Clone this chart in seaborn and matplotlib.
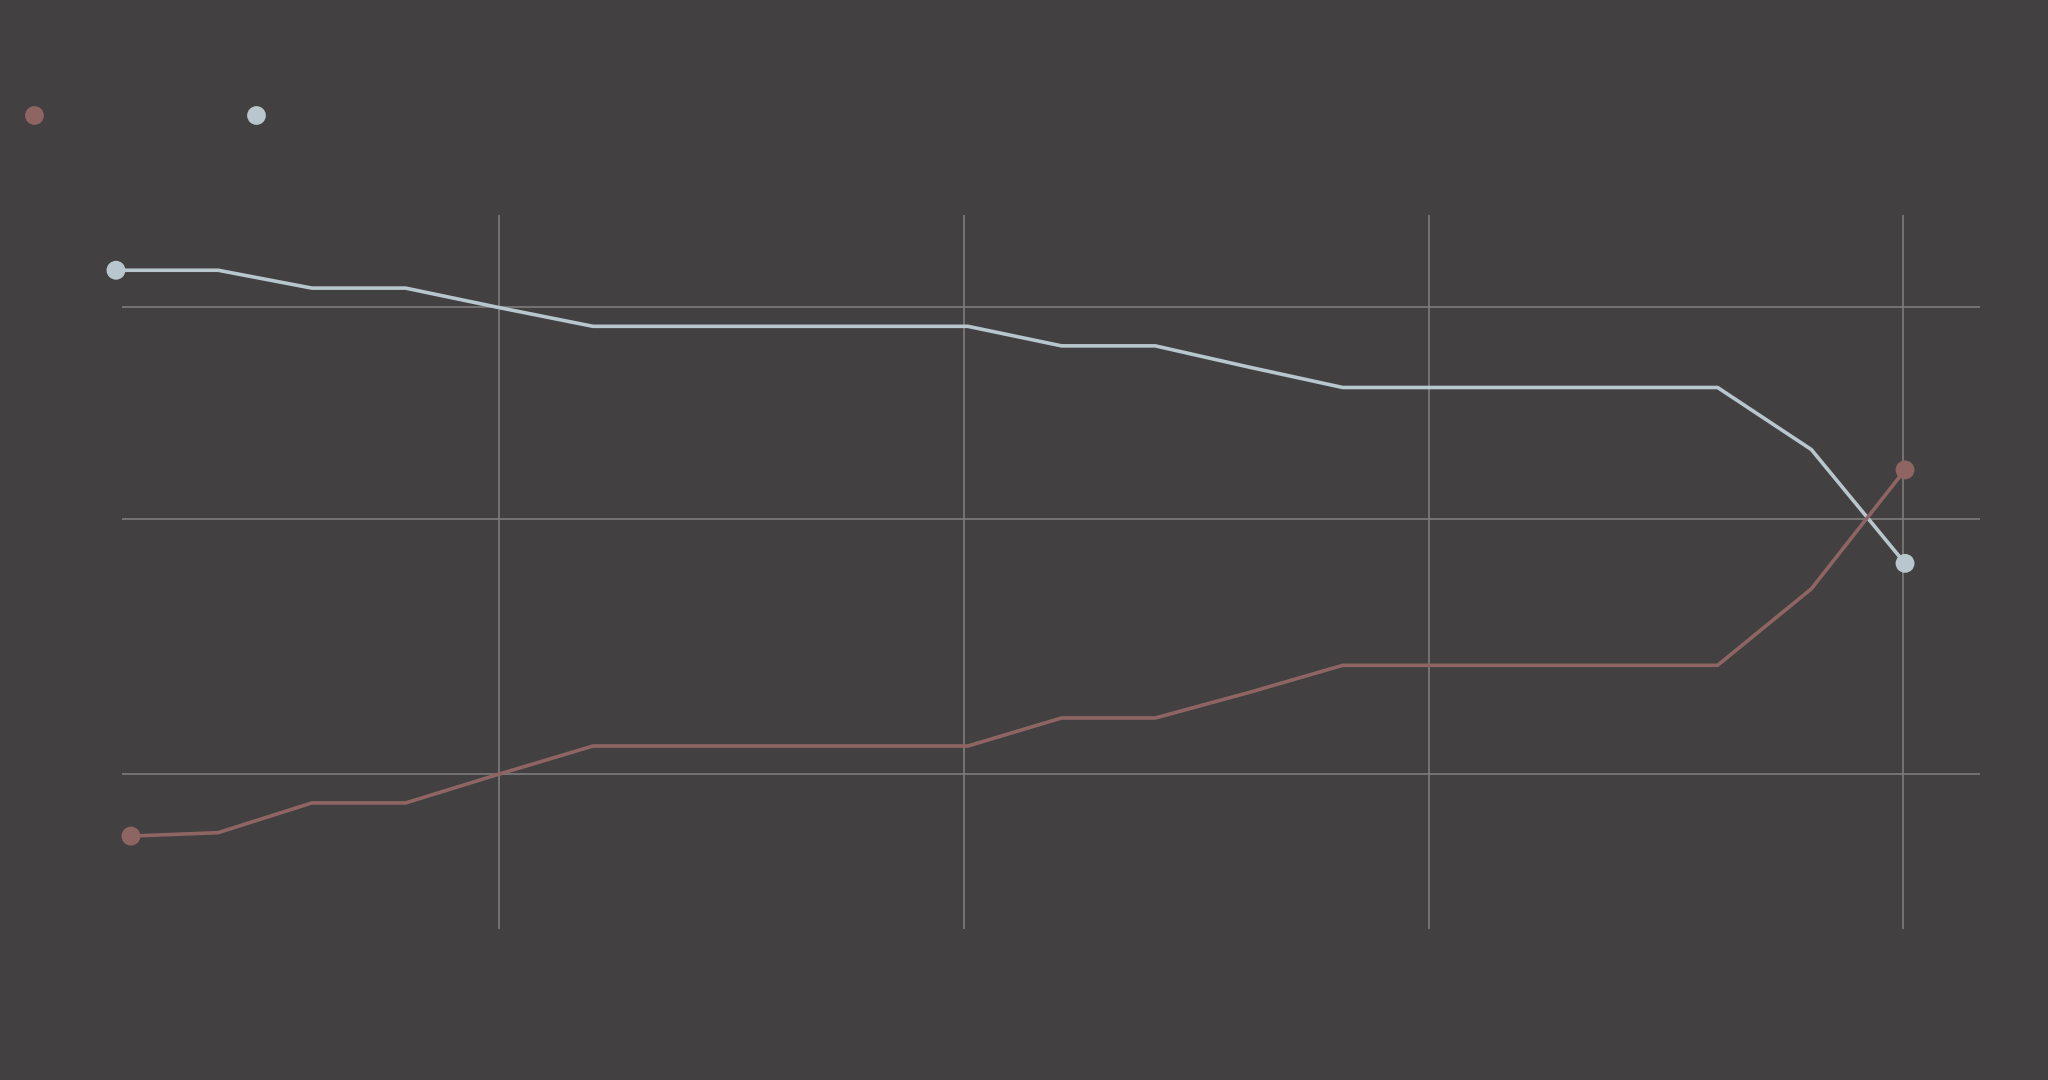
import pandas as pd
import matplotlib
matplotlib.use("Agg")
import matplotlib.pyplot as plt
from matplotlib.lines import Line2D
import seaborn as sns

# --- data (no labels in the picture) ---
years = [1997, 1998, 1999, 2000, 2001, 2002, 2003, 2004, 2005, 2006,
         2007, 2008, 2009, 2010, 2011, 2012, 2013, 2014, 2015]

red_start = (1996.07, 12.7)
red_vals = [13.1, 16.6, 16.6, 20.0, 23.3, 23.3, 23.3, 23.3, 23.3, 26.6,
            26.6, 29.6, 32.8, 32.8, 32.8, 32.8, 32.8, 41.8, 55.8]

blue_start = (1995.91, 79.3)
blue_vals = [79.3, 77.2, 77.2, 74.9, 72.7, 72.7, 72.7, 72.7, 72.7, 70.4,
             70.4, 67.9, 65.5, 65.5, 65.5, 65.5, 65.5, 58.2, 44.8]

x_ticks = [2000, 2004.96, 2009.92, 2014.98]
y_ticks = [20, 50, 75]

BG = "#434041"
GRID = "#7e7c7d"
RED = "#8e6562"
BLUE = "#b8c7ce"
palette = {"red": RED, "blue": BLUE}

# --- build long-form table ---
rows = []
for name, start, vals in [("blue", blue_start, blue_vals), ("red", red_start, red_vals)]:
    rows.append({"series": name, "year": start[0], "value": start[1]})
    for y, v in zip(years, vals):
        rows.append({"series": name, "year": y, "value": v})
df = pd.DataFrame(rows)

# endpoints get a dot
ends = df.groupby("series", sort=False).nth([0, -1]).reset_index(drop=True)

# --- plot ---
sns.set_style("dark", {"axes.facecolor": BG, "figure.facecolor": BG,
                       "grid.color": GRID})
fig = plt.figure(figsize=(20.48, 10.8), dpi=100)
ax = fig.add_axes([0.0596, 0.1398, 0.9072, 0.6611])
ax.set_facecolor(BG)

sns.lineplot(data=df, x="year", y="value", hue="series", hue_order=["blue", "red"],
             palette=palette, linewidth=2.6, legend=False, ax=ax, clip_on=False,
             zorder=2)
sns.scatterplot(data=ends, x="year", y="value", hue="series", hue_order=["blue", "red"],
                palette=palette, s=185, linewidth=0, legend=False, ax=ax,
                clip_on=False, zorder=3)

ax.set_xlim(1995.975, 2015.8)
ax.set_ylim(1.76, 85.8)
ax.set_xticks(x_ticks)
ax.set_yticks(y_ticks)
ax.grid(True, color=GRID, linewidth=1.2)
ax.tick_params(length=0, labelbottom=False, labelleft=False)
ax.set_xlabel("")
ax.set_ylabel("")
for s in ax.spines.values():
    s.set_visible(False)

# legend: two dots, no labels
handles = [Line2D([], [], linestyle="none", marker="o", markersize=13.5,
                  markerfacecolor=RED, markeredgewidth=0),
           Line2D([], [], linestyle="none", marker="o", markersize=13.5,
                  markerfacecolor=BLUE, markeredgewidth=0)]
fig.legend(handles, ["", ""], loc="center left", bbox_to_anchor=(0.0132, 0.8926),
           ncol=2, frameon=False, fontsize=10, handlelength=1, handletextpad=0,
           columnspacing=15.0, borderpad=0, borderaxespad=0)

fig.savefig("out.png", dpi=100, facecolor=BG)
